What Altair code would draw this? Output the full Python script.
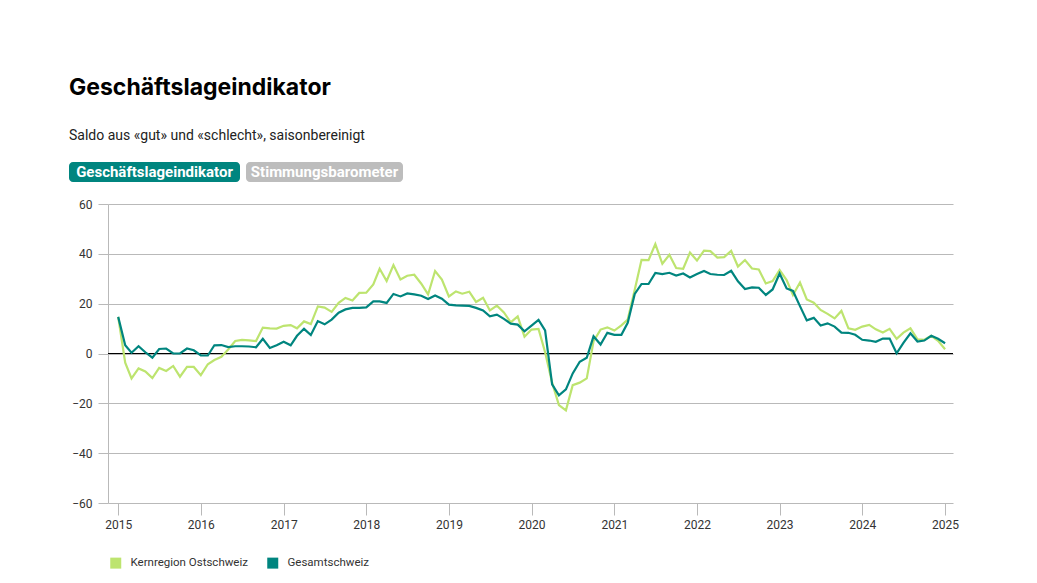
import altair as alt
import pandas as pd

# ---- data (monthly, Jan 2015 – Jan 2025) ----
months = pd.date_range("2015-01-01", "2025-01-01", freq="MS").strftime("%Y-%m-%d").tolist()

gesamtschweiz = [
    14.7, 3.3, 0.3, 2.9, 0.5, -1.7, 1.8, 2.0, 0.0, 0.0, 2.0, 1.3,
    -0.8, -0.8, 3.3, 3.4, 2.6, 2.9, 2.9, 2.8, 2.5, 5.9, 2.2, 3.3,
    4.7, 3.3, 7.1, 9.9, 7.4, 13.0, 11.7, 13.6, 16.4, 17.7, 18.3, 18.3,
    18.5, 20.9, 20.9, 20.3, 23.9, 22.9, 24.1, 23.7, 23.2, 21.9, 23.3, 22.0,
    19.6, 19.3, 19.2, 19.1, 18.3, 17.3, 14.9, 15.6, 13.9, 12.0, 11.6, 8.9,
    11.2, 13.5, 9.3, -12.4, -16.8, -14.4, -8.0, -3.3, -1.7, 6.9, 3.6, 8.3,
    7.5, 7.5, 12.3, 23.9, 27.9, 27.9, 32.3, 31.9, 32.4, 31.3, 32.1, 30.5,
    31.9, 33.1, 31.9, 31.6, 31.5, 33.2, 29.0, 25.9, 26.5, 26.4, 23.5, 25.7,
    32.1, 26.1, 25.1, 19.0, 13.3, 14.3, 11.2, 12.1, 10.8, 8.4, 8.3, 7.5,
    5.5, 5.2, 4.7, 6.0, 6.0, 0.1, 4.3, 8.1, 4.8, 5.2, 7.1, 5.9,
    4.1,
]

kernregion_ostschweiz = [
    14.7, -3.7, -10.0, -6.0, -7.2, -9.9, -5.8, -7.0, -5.0, -9.3, -5.4, -5.4,
    -8.7, -4.3, -2.6, -1.3, 1.6, 5.0, 5.5, 5.3, 5.0, 10.4, 10.1, 10.0,
    11.1, 11.4, 10.1, 12.9, 11.8, 18.9, 18.4, 16.7, 20.3, 22.3, 21.3, 24.3,
    24.4, 27.7, 34.0, 29.1, 35.5, 29.7, 31.2, 31.6, 28.0, 23.7, 33.1, 29.7,
    22.9, 24.9, 24.0, 24.8, 20.7, 22.4, 17.3, 19.2, 16.5, 12.5, 14.9, 6.7,
    9.6, 9.9, 0.5, -11.7, -20.7, -22.8, -12.7, -11.7, -10.0, 4.9, 9.6, 10.5,
    9.2, 11.3, 13.6, 25.6, 37.6, 37.5, 43.9, 36.0, 39.6, 34.3, 34.0, 40.5,
    37.3, 41.3, 41.1, 38.5, 38.7, 41.2, 34.9, 37.5, 34.1, 33.7, 28.1, 29.1,
    33.5, 29.5, 23.5, 28.5, 21.7, 20.4, 17.5, 15.9, 14.1, 17.1, 10.1, 9.5,
    10.8, 11.5, 9.7, 8.4, 9.9, 5.9, 8.4, 10.1, 5.7, 5.5, 7.1, 5.1,
    1.7,
]

series_names = ["Kernregion Ostschweiz", "Gesamtschweiz"]
series_colors = ["#bde46f", "#00857f"]
y_ticks = [-60, -40, -20, 0, 20, 40, 60]
x_tick_years = list(range(2015, 2026))
buttons = ["Geschäftslageindikator", "Stimmungsbarometer"]

title_text = "Geschäftslageindikator"
subtitle_text = "Saldo aus «gut» und «schlecht», saisonbereinigt"

# ---- tables ----
df = pd.DataFrame({
    "date": months * 2,
    "value": kernregion_ostschweiz + gesamtschweiz,
    "series": [series_names[0]] * len(months) + [series_names[1]] * len(months),
})

FONT = "Roboto"
GRID = "#b9b9b9"

color_scale = alt.Scale(domain=series_names, range=series_colors)

x_enc = alt.X(
    "date:T",
    scale=alt.Scale(domain=[alt.DateTime(year=2014, month=11, date=17),
                            alt.DateTime(year=2025, month=2, date=5)]),
    axis=alt.Axis(
        title=None, grid=False, domain=False,
        values=[alt.DateTime(year=y, month=1, date=1) for y in x_tick_years],
        format="%Y", tickSize=12, tickColor=GRID, labelPadding=4,
        labelFont=FONT, labelFontSize=12, labelColor="#333333",
    ),
)
y_enc = alt.Y(
    "value:Q",
    scale=alt.Scale(domain=[-60, 60], nice=False),
    axis=alt.Axis(
        title=None, values=y_ticks, grid=True, gridColor=GRID,
        domain=True, domainColor=GRID, tickColor=GRID, tickSize=10,
        labelPadding=6, labelFont=FONT, labelFontSize=12, labelColor="#333333",
    ),
)

legend = alt.Legend(
    orient="none", legendX=2, legendY=353, direction="horizontal", title=None,
    symbolType="square", symbolSize=25, symbolStrokeWidth=6,
    labelFont=FONT, labelFontSize=11.5, labelColor="#333333", columnPadding=10,
    labelOffset=9,
)

base = alt.Chart(df)

lines_ost = base.transform_filter(alt.datum.series == series_names[0]).mark_line(
    strokeWidth=2.2
).encode(x=x_enc, y=y_enc, color=alt.Color("series:N", scale=color_scale, legend=legend))

lines_ges = base.transform_filter(alt.datum.series == series_names[1]).mark_line(
    strokeWidth=2.2
).encode(x=x_enc, y=y_enc, color=alt.Color("series:N", scale=color_scale, legend=legend))

zero = alt.Chart(pd.DataFrame({"v": [0]})).mark_rule(color="#000000", strokeWidth=1.2).encode(
    y=alt.Y("v:Q", scale=alt.Scale(domain=[-60, 60], nice=False))
)

btn_df = pd.DataFrame({"label": buttons})
btn1_rect = alt.Chart(btn_df.iloc[[0]]).mark_rect(color="#00857f", cornerRadius=4).encode(
    x=alt.value(-39), x2=alt.value(132), y=alt.value(-42), y2=alt.value(-22)
)
btn1_text = alt.Chart(btn_df.iloc[[0]]).mark_text(
    color="white", font=FONT, fontSize=15, fontWeight="bold", align="center", baseline="middle"
).encode(text="label:N", x=alt.value(46.5), y=alt.value(-32))
btn2_rect = alt.Chart(btn_df.iloc[[1]]).mark_rect(color="#bdbdbd", cornerRadius=4).encode(
    x=alt.value(138), x2=alt.value(295), y=alt.value(-42), y2=alt.value(-22)
)
btn2_text = alt.Chart(btn_df.iloc[[1]]).mark_text(
    color="white", font=FONT, fontSize=15, fontWeight="bold", align="center", baseline="middle"
).encode(text="label:N", x=alt.value(216.5), y=alt.value(-32))

chart = alt.layer(
    zero, lines_ost, lines_ges, btn1_rect, btn1_text, btn2_rect, btn2_text
).properties(
    width=845, height=299,
    autosize=alt.AutoSizeParams(type="none"),
    padding={"left": 100, "top": 196, "right": 60, "bottom": 70},
    title=alt.TitleParams(
        text=title_text, subtitle=subtitle_text, anchor="start", frame="group",
        font="Inter", fontSize=23, fontWeight="bold", color="#000000",
        subtitleFont=FONT, subtitleFontSize=14, subtitleColor="#222222",
        subtitlePadding=29, dx=-39, offset=19,
    ),
).configure_view(stroke=None)

chart.save("out.html", embed_options={"renderer": "svg", "actions": False})
